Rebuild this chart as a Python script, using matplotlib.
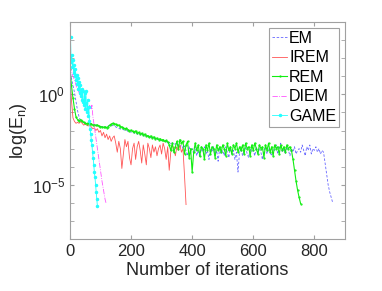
import matplotlib
matplotlib.use("Agg")
import matplotlib.pyplot as plt
import numpy as np
from matplotlib.ticker import FixedLocator, NullFormatter

plt.rcParams["font.family"] = ["Liberation Sans", "DejaVu Sans"]
plt.rcParams["mathtext.fontset"] = "custom"
plt.rcParams["mathtext.rm"] = "Liberation Sans"

# log10 of the error
em_iter = np.arange(0, 865, 5)
em_log = [
    1.4, 0.9, 0.5, 0.1, -0.4, -0.9, -1.25, -1.45, -1.5, -1.55,
    -1.6, -1.62, -1.6, -1.65, -1.62, -1.68, -1.7, -1.66, -1.72, -1.75,
    -1.8, -1.78, -1.85, -1.82, -1.8, -1.75, -1.72, -1.78, -1.7, -1.74,
    -1.8, -1.85, -1.88, -1.92, -1.9, -1.95, -2.0, -1.97, -2.05, -2.02,
    -2.1, -2.08, -2.15, -2.1, -2.2, -2.18, -2.25, -2.2, -2.28, -2.3,
    -2.35, -2.3, -2.4, -2.38, -2.45, -2.4, -2.5, -2.45, -2.55, -2.5,
    -2.6, -2.55, -2.62, -2.58, -2.7, -2.65, -2.75, -2.68, -2.8, -2.72,
    -2.85, -2.78, -2.9, -2.8, -3.0, -2.85, -3.1, -3.4, -2.9, -3.2,
    -3.0, -3.3, -2.9, -3.4, -3.1, -3.5, -3.0, -3.2, -2.9, -3.3,
    -3.1, -3.6, -3.0, -3.2, -2.9, -3.4, -3.1, -3.7, -3.0, -3.3,
    -3.1, -3.4, -2.9, -3.2, -3.5, -3.0, -3.3, -3.1, -3.6, -3.2,
    -4.3, -3.2, -3.0, -3.4, -3.1, -2.9, -3.3, -3.5, -3.0, -3.2,
    -3.1, -3.4, -2.9, -3.3, -3.0, -3.2, -3.6, -3.1, -2.9, -3.3,
    -3.0, -3.2, -3.4, -3.0, -3.1, -2.8, -3.3, -3.0, -2.7, -3.2,
    -3.0, -3.3, -2.9, -3.1, -3.4, -3.0, -3.2, -2.9, -3.3, -3.1,
    -3.0, -3.2, -2.8, -3.1, -3.4, -2.9, -3.1, -2.8, -3.3, -3.0,
    -3.1, -2.9, -3.2, -3.0, -3.3, -3.1, -3.2,
    -3.8, -4.4, -5.0, -5.4, -5.7, -6.0,
]

irem_iter = np.arange(0, 385, 5)
irem_log = [
    1.0, -0.3, -1.3, -1.5, -1.6, -1.55, -1.6, -1.5, -1.6, -1.7,
    -1.65, -1.7, -1.75, -1.7, -1.8, -1.9, -1.85, -2.0, -1.9, -2.1,
    -2.0, -2.3, -2.1, -2.4, -2.2, -2.5, -2.3, -2.6, -2.4, -2.3,
    -2.7, -3.2, -2.6, -3.0, -4.1, -3.3, -2.5, -2.9, -2.6, -3.5,
    -3.9, -3.0, -2.7, -3.6, -2.9, -2.6, -3.1, -3.8, -2.8, -3.3,
    -3.9, -2.7, -3.0, -3.5, -2.8, -3.2, -2.9, -3.4, -3.0, -2.8,
    -3.3, -2.7, -3.0, -3.6, -2.9, -4.2, -3.2, -2.8, -3.0, -3.4,
    -2.9, -3.1, -2.8, -3.2, -3.0, -4.5, -6.1,
]

rem_iter = np.arange(0, 760, 5)
rem_log = [
    1.4, 0.5, -0.2, -0.8, -1.25, -1.4, -1.45, -1.4, -1.5, -1.55,
    -1.6, -1.62, -1.58, -1.65, -1.63, -1.7, -1.68, -1.72, -1.7, -1.75,
    -1.78, -1.8, -1.82, -1.8, -1.85, -1.78, -1.7, -1.65, -1.6, -1.62,
    -1.65, -1.72, -1.7, -1.78, -1.8, -1.85, -1.9, -1.88, -1.95, -2.0,
    -1.98, -2.05, -2.1, -2.02, -2.15, -2.1, -2.2, -2.15, -2.25, -2.2,
    -2.3, -2.28, -2.35, -2.3, -2.4, -2.35, -2.45, -2.42, -2.5, -2.45,
    -2.55, -2.5, -2.6, -2.55, -2.62, -2.8, -3.1, -2.7, -3.2, -2.9,
    -2.6, -3.0, -2.5, -2.7, -2.6, -3.3, -2.8, -2.6, -3.5, -3.0,
    -4.3, -3.2, -2.7, -3.1, -2.8, -3.4, -2.9, -3.0, -3.6, -2.8,
    -3.1, -2.7, -3.3, -2.9, -3.0, -3.5, -2.8, -3.1, -2.9, -3.2,
    -2.8, -3.0, -3.4, -2.7, -3.1, -2.9, -3.3, -2.8, -3.0, -2.7,
    -3.2, -2.9, -3.1, -2.8, -3.3, -2.7, -3.0, -2.9, -3.4, -2.8,
    -3.1, -2.7, -3.0, -3.3, -2.8, -3.0, -2.9, -3.5, -2.8, -3.1,
    -2.7, -3.2, -2.9, -3.4, -2.8, -3.0, -2.9, -3.3, -2.8, -3.1,
    -2.9, -3.2, -2.8, -3.0, -2.9, -3.1, -3.6, -4.2, -4.8, -5.3,
    -5.7, -6.05,
]

diem_iter = [0, 5, 10, 15, 20, 25, 30, 35, 40, 45, 50, 55, 60, 65, 70, 72,
             75, 80, 85, 90, 95, 100, 105, 110, 115, 118]
diem_log = [1.6, 1.3, 1.0, 0.8, 0.5, 0.3, 0.1, -0.1, -0.3, -0.5, -0.7, -0.9,
            -1.0, -0.6, -0.8, -0.6, -1.2, -1.8, -2.4, -3.0, -3.6, -4.2, -4.8,
            -5.3, -5.8, -6.0]

game_iter = np.arange(0, 92, 2)
game_log = [
    2.0, 3.2, 1.8, 2.2, 1.5, 1.9, 1.2, 1.6, 1.0, 1.4,
    0.8, 1.1, 0.6, 0.9, 0.3, 0.7, 0.1, 0.5, -0.1, 0.3,
    -0.3, 0.2, -0.4, -0.6, 0.1, -0.8, 0.2, -0.5, -1.0, -0.3,
    -1.2, -0.7, -1.5, -1.9, -2.2, -2.5, -2.8, -3.2, -3.5, -3.9,
    -4.3, -4.6, -5.0, -5.4, -5.8, -6.2,
]

fig = plt.figure(figsize=(3.82, 2.91), dpi=100)
ax = fig.add_axes([0.183, 0.179, 0.720, 0.745])

ax.semilogy(em_iter, 10.0 ** np.array(em_log), "--", color="#6666ff", lw=0.6,
            dashes=(3, 2), label="EM")
ax.semilogy(irem_iter, 10.0 ** np.array(irem_log), "-", color="#ff5555", lw=0.6, label="IREM")
ax.semilogy(rem_iter, 10.0 ** np.array(rem_log), "-", color="#11ee11", lw=0.8,
            marker=".", ms=1.2, label="REM")
ax.semilogy(diem_iter, 10.0 ** np.array(diem_log), "-.", color="#ff55ff", lw=0.6,
            label="DIEM")
ax.semilogy(game_iter, 10.0 ** np.array(game_log), "-", color="#22ffff", lw=0.6,
            marker=".", ms=3, label="GAME")

ax.set_xlim(0, 900)
ax.set_ylim(1e-8, 1e4)
ax.set_xticks([0, 200, 400, 600, 800])
ax.yaxis.set_major_locator(FixedLocator([1e-5, 1e0]))
ax.yaxis.set_minor_locator(FixedLocator([10.0 ** k for k in range(-7, 4)]))
ax.yaxis.set_minor_formatter(NullFormatter())

for s in ax.spines.values():
    s.set_color("#a0a0a0")
    s.set_linewidth(0.8)
ax.tick_params(which="both", direction="in", top=True, right=True,
               color="#a0a0a0", labelcolor="#262626", labelsize=12, length=3)

ax.set_xlabel("Number of iterations", fontsize=13, color="#262626", labelpad=2)
ax.set_ylabel("log(E$_\\mathregular{n}$)", fontsize=13, color="#262626", labelpad=2)

leg = ax.legend(loc="upper right", fontsize=11.5, handlelength=0.95, handletextpad=0.1,
                labelspacing=0.28, borderpad=0.2, borderaxespad=0.35,
                fancybox=False, framealpha=1)
leg.get_frame().set_edgecolor("#a0a0a0")
leg.get_frame().set_linewidth(0.8)

fig.savefig("out.png", dpi=100)
